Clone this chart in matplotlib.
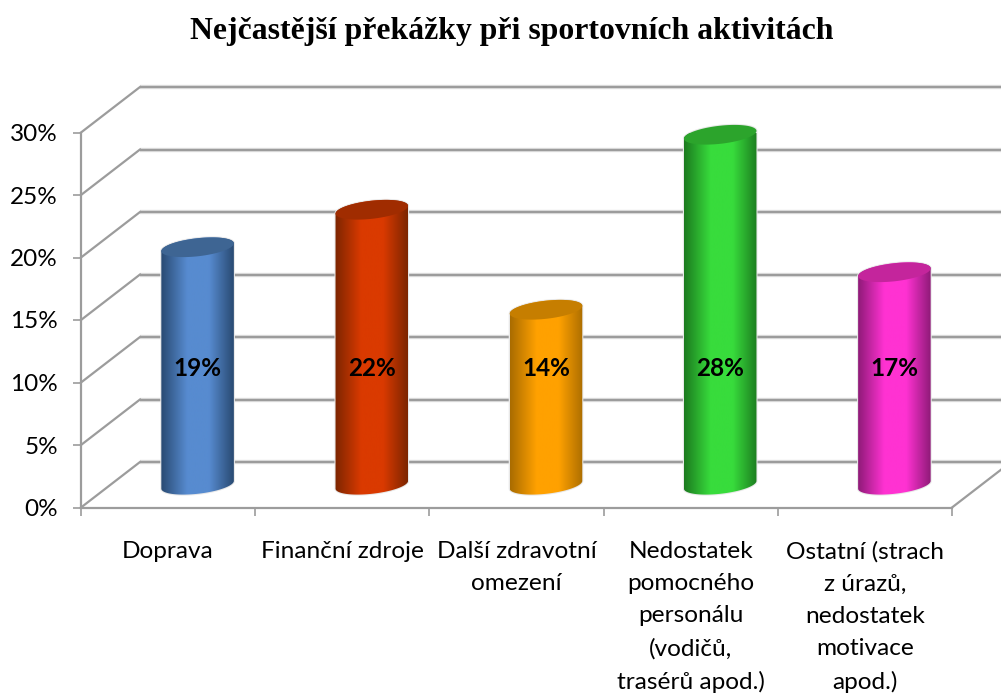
import numpy as np
import matplotlib
matplotlib.use("Agg")
import matplotlib.pyplot as plt
from matplotlib.colors import LinearSegmentedColormap
from matplotlib.patches import Polygon

W, H = 1001, 693

TITLE = "Nejčastější překážky při sportovních aktivitách"
categories = ["Doprava", "Finanční zdroje", "Další zdravotní\nomezení",
              "Nedostatek\npomocného\npersonálu\n(vodičů,\ntrasérů apod.)",
              "Ostatní (strach\nz úrazů,\nnedostatek\nmotivace\napod.)"]
values = [19, 22, 14, 28, 17]
y_ticks = [0, 5, 10, 15, 20, 25, 30]

edge_colors = ["#294a72", "#7c2500", "#a96c00", "#1c7a1f", "#8f1a78"]
mid_colors = ["#578bd0", "#da3a00", "#ffa100", "#38dc3c", "#ff32d2"]
top_colors = ["#3e6593", "#a02c00", "#c67e00", "#2ca42c", "#c4259c"]

GRID = "#9c9c9c"
HALO = "#e6e6e6"
TEXT_FONT = ["Lato", "DejaVu Sans"]

# front plane of the 3d box in pixels
LEFT, RIGHT, BOTTOM, TOP = 81, 952, 507.5, 132.5
DX_PX, DY_PX = 59, 45.5
RX, RY, TILT = 36.5, 9, np.radians(6.5)

fig = plt.figure(figsize=(W / 100, H / 100), dpi=100, facecolor="white")
ax = fig.add_axes([LEFT / W, 1 - BOTTOM / H, (RIGHT - LEFT) / W, (BOTTOM - TOP) / H])
ax.set_xlim(0, len(categories))
ax.set_ylim(0, 30)
ax.patch.set_visible(False)

px_x = (RIGHT - LEFT) / len(categories)
px_y = (BOTTOM - TOP) / 30
dx = DX_PX / px_x
dy = DY_PX / px_y

# walls and floor
for t in y_ticks:
    ax.plot([dx, len(categories) + dx], [t + dy, t + dy], color=HALO, lw=3.2,
            clip_on=False, zorder=0.9, solid_capstyle="butt")
    ax.plot([0, dx], [t, t + dy], color=GRID, lw=1.6, clip_on=False, zorder=1)
    ax.plot([dx, len(categories) + dx], [t + dy, t + dy], color=GRID, lw=1.7,
            clip_on=False, zorder=1, solid_capstyle="butt")
ax.plot([len(categories), len(categories) + dx], [0, dy], color=GRID, lw=1.6,
        clip_on=False, zorder=1)


def ellipse(cx, cy, t):
    # tilted ellipse, sized in pixels, returned in data units
    ex = RX * np.cos(t) * np.cos(TILT) - RY * np.sin(t) * np.sin(TILT)
    ey = RX * np.cos(t) * np.sin(TILT) + RY * np.sin(t) * np.cos(TILT)
    return np.column_stack([cx + ex / px_x, cy + ey / px_y])


for i, v in enumerate(values):
    cx = i + 0.5 + dx / 2
    base = dy / 2
    top = base + v
    lower = ellipse(cx, base, np.linspace(np.pi, 2 * np.pi, 60))
    upper = ellipse(cx, top, np.linspace(0, np.pi, 60))
    body = Polygon(np.vstack([lower, upper]), closed=True, fc="none", ec="#e8e8e8",
                   lw=1.5, zorder=2, clip_on=False)
    ax.add_patch(body)
    cmap = LinearSegmentedColormap.from_list(
        "cyl", [(0, edge_colors[i]), (0.36, mid_colors[i]), (0.66, mid_colors[i]),
                (1, edge_colors[i])])
    half = RX / px_x
    im = ax.imshow(np.linspace(0, 1, 256)[None, :], cmap=cmap, aspect="auto",
                   extent=[cx - half, cx + half, -1, 31], zorder=3)
    im.set_clip_path(Polygon(np.vstack([lower, upper]), closed=True, transform=ax.transData))
    t = np.linspace(0, 2 * np.pi, 120)
    ax.add_patch(Polygon(ellipse(cx, top, t), closed=True, fc=top_colors[i], ec="none",
                         zorder=4, clip_on=False))
    ax.text(cx, 11.15, f"{v}%", ha="center", va="center", fontsize=17.5, fontweight="bold",
            family=TEXT_FONT, color="black", zorder=5)

ax.set_xlim(0, len(categories))
ax.set_ylim(0, 30)

for side in ["top", "right"]:
    ax.spines[side].set_visible(False)
for side in ["left", "bottom"]:
    ax.spines[side].set_color(GRID)
    ax.spines[side].set_linewidth(1.6)
    ax.spines[side].set_zorder(1.5)

ax.set_yticks(y_ticks)
ax.set_yticklabels([f"{t}%" for t in y_ticks], fontsize=17.5, family=TEXT_FONT)
ax.set_xticks(range(len(categories) + 1))
ax.set_xticklabels([])
ax.set_xticks(np.arange(len(categories)) + 0.5, minor=True)
ax.set_xticklabels(categories, minor=True, fontsize=17.6, family=TEXT_FONT,
                   ha="center", va="top", linespacing=1.66)
ax.tick_params(axis="both", which="major", length=5.5, width=1.2, color=GRID, labelcolor="black")
ax.tick_params(axis="y", pad=11)
ax.tick_params(axis="x", which="minor", length=0, pad=24)

fig.text(512 / W, 1 - 31 / H, TITLE, ha="center", va="center", fontsize=22.9,
         fontweight="bold", family="Liberation Serif")

fig.savefig("out.png", dpi=100, facecolor="white")
